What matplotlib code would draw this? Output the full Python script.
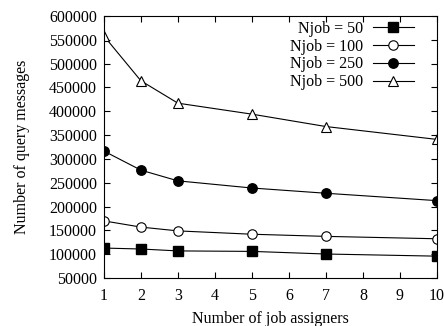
import matplotlib
matplotlib.use("Agg")
import matplotlib.pyplot as plt

assigners = [1, 2, 3, 5, 7, 10]
njob_50 = [113000, 111000, 107000, 106000, 100500, 96000]
njob_100 = [170000, 157000, 149000, 142000, 137500, 132500]
njob_250 = [316500, 276500, 254000, 239000, 228000, 212500]
njob_500 = [558000, 464000, 417000, 394000, 368000, 341000]

plt.rcParams['font.family'] = ['Liberation Serif', 'DejaVu Serif']
plt.rcParams['font.size'] = 11.5

fig = plt.figure(figsize=(4.44, 3.26), dpi=100)
ax = fig.add_axes([0.234, 0.147, 0.750, 0.804])

ax.plot(assigners, njob_50, 'k-s', lw=0.8, ms=7, label='Njob = 50')
ax.plot(assigners, njob_100, 'k-o', lw=0.8, ms=6.8, mfc='white', mew=0.8, label='Njob = 100')
ax.plot(assigners, njob_250, 'k-o', lw=0.8, ms=6.8, label='Njob = 250')
ax.plot(assigners, njob_500, 'k-^', lw=0.8, ms=7, mfc='white', mew=0.8, label='Njob = 500')

ax.set_xlim(1, 10)
ax.set_ylim(50000, 600000)
ax.set_xticks(range(1, 11))
ax.set_yticks(range(50000, 600001, 50000))
ax.tick_params(direction='in', top=True, right=True, length=4, width=0.8)
ax.tick_params(axis='x', pad=7)
ax.tick_params(axis='y', pad=5)
for s in ax.spines.values():
    s.set_linewidth(0.8)

ax.set_xlabel('Number of job assigners', labelpad=5)
ax.set_ylabel('Number of query messages', labelpad=14)

ax.legend(loc='upper right', frameon=False, markerfirst=False, handlelength=2.6,
          labelspacing=0.12, borderaxespad=0.3, handletextpad=0.6,
          bbox_to_anchor=(0.965, 1.025))

fig.savefig('out.png', dpi=100)
